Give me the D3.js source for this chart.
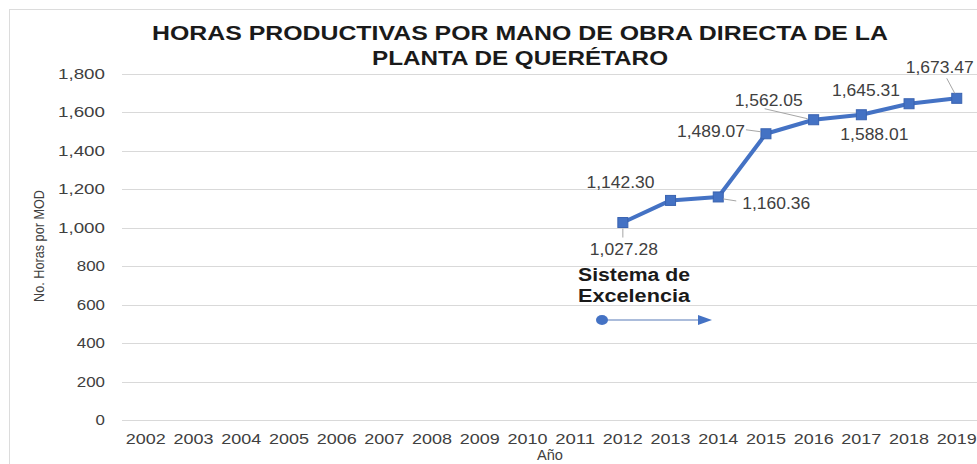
<!DOCTYPE html>
<html>
<head>
<meta charset="utf-8">
<script src="https://cdn.jsdelivr.net/npm/d3@7"></script>
<style>
  html, body { margin: 0; padding: 0; background: #fff; }
  svg { display: block; font-family: "Liberation Sans", Arial, sans-serif; }
</style>
</head>
<body>
<svg id="chart" width="977" height="464"></svg>
<script>
// Years on the category axis
const years = ["2002","2003","2004","2005","2006","2007","2008","2009","2010",
               "2011","2012","2013","2014","2015","2016","2017","2018","2019"];
// Productive hours per direct-labour worker (data only from 2012 on)
const seriesYears = ["2012","2013","2014","2015","2016","2017","2018","2019"];
const seriesValues = [1027.28, 1142.30, 1160.36, 1489.07, 1562.05, 1588.01, 1645.31, 1673.47];
// Value-axis ticks
const yTicks = [0, 200, 400, 600, 800, 1000, 1200, 1400, 1600, 1800];
// Label offset from each point (label centre): [dx, dy]
const labelOffset = [[1, 26], [-50, -18], [58, 6], [-55, -3], [-45, -20], [13, 19], [-43, -14], [-17, -31]];
// Leader line endpoints relative to each point, or null: [x1, y1, x2, y2]
const leaders = [
  [0, 6, 0, 15], null, [5, 2, 18, 4], [-20, -4, -5, -2],
  [-49, -11, -6, -1], null, null, [-10, -20, -2, -5]
];

const svg = d3.select("#chart");
const W = 977, H = 464;
const plot = { left: 122, right: 980.6, top: 74, bottom: 420 };

// Outer chart frame
svg.append("rect").attr("x", 9.5).attr("y", 9.5).attr("width", W + 20).attr("height", H + 20)
  .attr("fill", "none").attr("stroke", "#dcdcdc");

const x = d3.scaleBand().domain(years).range([plot.left, plot.right]);
const y = d3.scaleLinear().domain([0, 1800]).range([plot.bottom, plot.top]);

// Horizontal gridlines
svg.append("g").selectAll("line").data(yTicks).join("line")
  .attr("x1", plot.left).attr("x2", W)
  .attr("y1", d => Math.round(y(d)) + 0.5).attr("y2", d => Math.round(y(d)) + 0.5)
  .attr("stroke", "#d9d9d9").attr("stroke-width", 1);

// Y axis labels
const yAxis = d3.axisLeft(y).tickValues(yTicks).tickSize(0).tickPadding(0)
  .tickFormat(d3.format(","));
const gy = svg.append("g").attr("transform", `translate(${plot.left - 17},0)`).call(yAxis);
gy.select(".domain").remove();
gy.selectAll("text").attr("font-size", 14).attr("fill", "#404040")
  .attr("font-family", "'Liberation Sans', Arial, sans-serif")
  .each(function (d) {
    const n = d3.format(",")(d).length;
    d3.select(this).attr("textLength", n * 9.4).attr("lengthAdjust", "spacingAndGlyphs");
  });

// X axis labels
const xAxis = d3.axisBottom(x).tickSize(0).tickPadding(0);
const gx = svg.append("g").attr("transform", `translate(0,${plot.bottom + 14})`).call(xAxis);
gx.select(".domain").remove();
gx.selectAll("text").attr("font-size", 14).attr("fill", "#404040")
  .attr("font-family", "'Liberation Sans', Arial, sans-serif")
  .attr("textLength", 40).attr("lengthAdjust", "spacingAndGlyphs");

// Axis titles
svg.append("text").attr("x", 550).attr("y", 460).attr("text-anchor", "middle")
  .attr("font-size", 14).attr("fill", "#404040")
  .attr("textLength", 26).attr("lengthAdjust", "spacingAndGlyphs").text("Año");
svg.append("text").attr("transform", "translate(44,246) rotate(-90)").attr("text-anchor", "middle")
  .attr("font-size", 15).attr("fill", "#404040")
  .attr("textLength", 112).attr("lengthAdjust", "spacingAndGlyphs")
  .text("No. Horas por MOD");

// Title
const title = svg.append("text").attr("text-anchor", "middle").attr("font-weight", "bold")
  .attr("font-size", 21).attr("fill", "#1a1a1a");
title.append("tspan").attr("x", 520).attr("y", 40)
  .attr("textLength", 736).attr("lengthAdjust", "spacingAndGlyphs")
  .text("HORAS PRODUCTIVAS POR MANO DE OBRA DIRECTA DE LA");
title.append("tspan").attr("x", 520).attr("y", 65)
  .attr("textLength", 296).attr("lengthAdjust", "spacingAndGlyphs")
  .text("PLANTA DE QUERÉTARO");

// Series line
const pts = seriesYears.map((yr, i) => ({ yr, v: seriesValues[i], off: labelOffset[i], lead: leaders[i] }));
const cx = d => x(d.yr) + x.bandwidth() / 2;
svg.append("path").datum(pts)
  .attr("d", d3.line().x(cx).y(d => y(d.v)))
  .attr("fill", "none").attr("stroke", "#4472c4").attr("stroke-width", 4)
  .attr("stroke-linejoin", "round");

// Square markers
svg.append("g").selectAll("rect").data(pts).join("rect")
  .attr("x", d => cx(d) - 5).attr("y", d => y(d.v) - 5)
  .attr("width", 10).attr("height", 10)
  .attr("fill", "#4472c4").attr("stroke", "#3a63b0").attr("stroke-width", 1);

// Leader lines for offset labels
svg.append("g").selectAll("line").data(pts.filter(d => d.lead)).join("line")
  .attr("x1", d => cx(d) + d.lead[0]).attr("y1", d => y(d.v) + d.lead[1])
  .attr("x2", d => cx(d) + d.lead[2]).attr("y2", d => y(d.v) + d.lead[3])
  .attr("stroke", "#a6a6a6").attr("stroke-width", 1);

// Value labels
const fmt = d3.format(",.2f");
svg.append("g").selectAll("text").data(pts).join("text")
  .attr("x", d => cx(d) + d.off[0])
  .attr("y", d => y(d.v) + d.off[1] + 6)
  .attr("text-anchor", "middle")
  .attr("font-size", 16).attr("fill", "#404040")
  .attr("textLength", 68).attr("lengthAdjust", "spacingAndGlyphs")
  .text(d => fmt(d.v));

// "Sistema de Excelencia" annotation with arrow
const ann = svg.append("text").attr("font-weight", "bold").attr("font-size", 18).attr("fill", "#1a1a1a");
ann.append("tspan").attr("x", 578).attr("y", 281)
  .attr("textLength", 112).attr("lengthAdjust", "spacingAndGlyphs").text("Sistema de");
ann.append("tspan").attr("x", 578).attr("y", 302)
  .attr("textLength", 112).attr("lengthAdjust", "spacingAndGlyphs").text("Excelencia");

svg.append("line").attr("x1", 602).attr("y1", 320).attr("x2", 700).attr("y2", 320)
  .attr("stroke", "#8fa6cf").attr("stroke-width", 1.6);
svg.append("path").attr("d", "M698,315 L712,320 L698,325 Z").attr("fill", "#4472c4");
svg.append("ellipse").attr("cx", 602).attr("cy", 320).attr("rx", 6).attr("ry", 5)
  .attr("fill", "#4472c4");
</script>
</body>
</html>
